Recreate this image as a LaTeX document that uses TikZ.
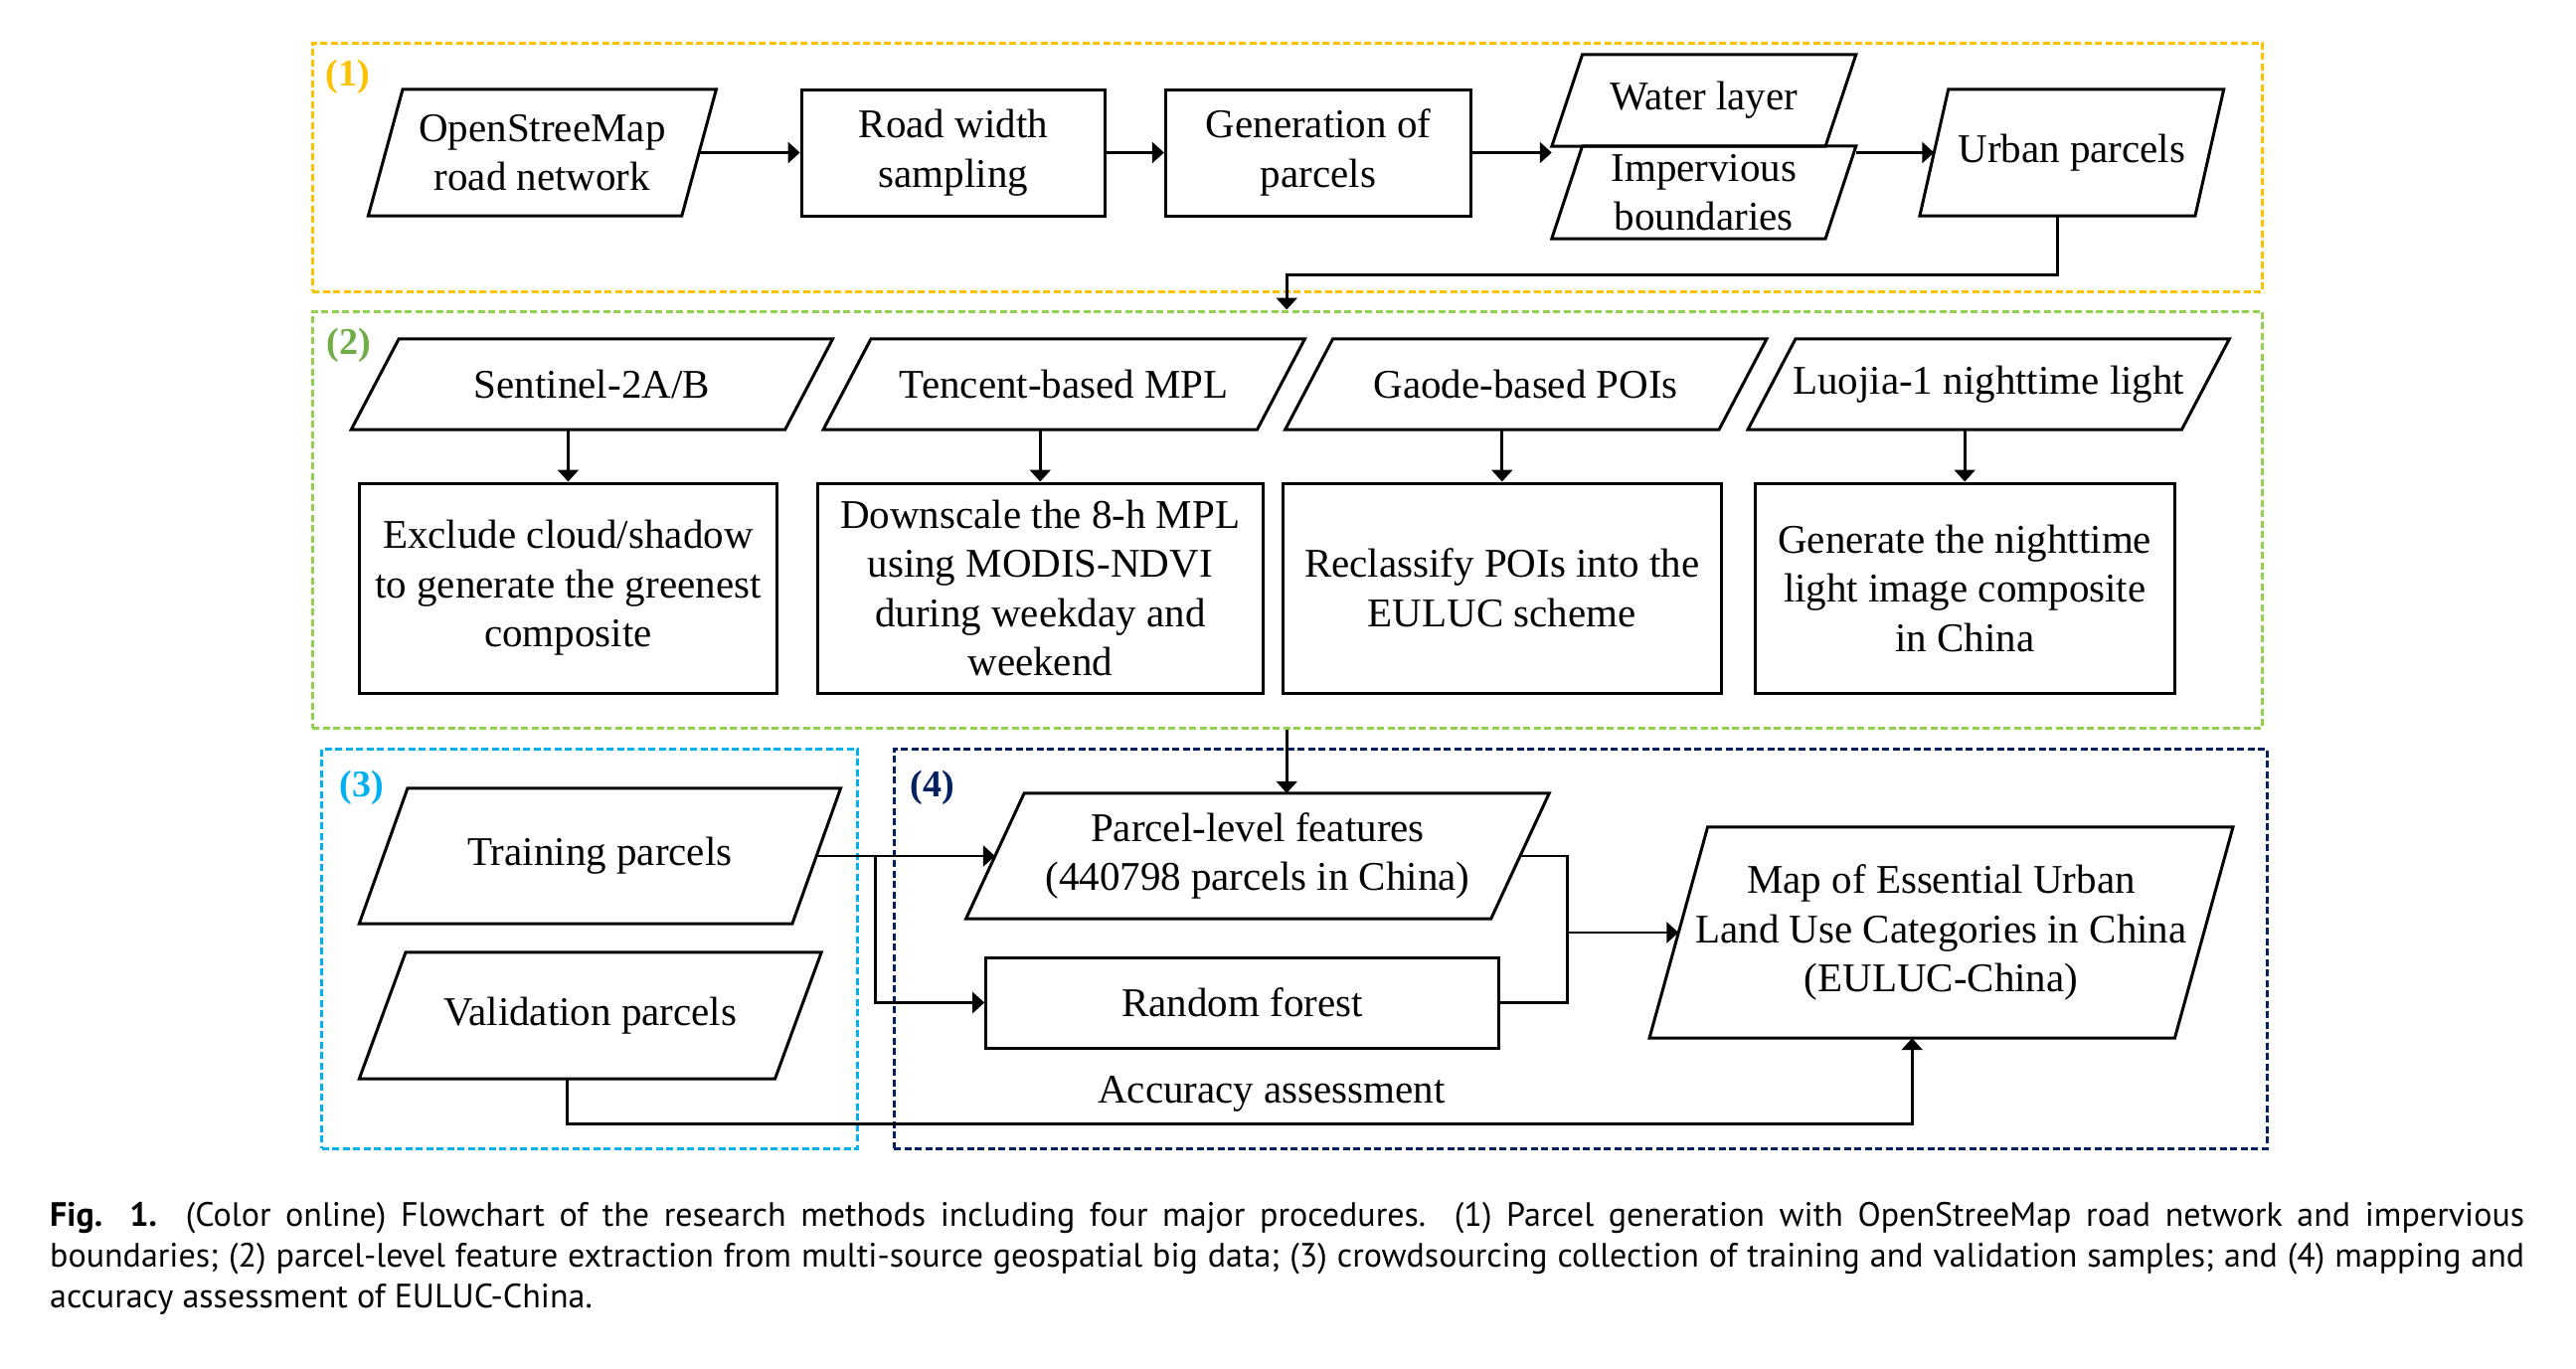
\documentclass[tikz,border=0pt]{standalone}
\usepackage{fontspec}
\setmainfont{Liberation Serif}
\newfontfamily\capfont{PT Sans}
\usetikzlibrary{arrows.meta}
\definecolor{cone}{HTML}{FFC000}
\definecolor{ctwo}{HTML}{92D050}
\definecolor{ctwot}{HTML}{70AD47}
\definecolor{cthree}{HTML}{00B0F0}
\definecolor{cfour}{HTML}{002060}
\newcommand\paraout[2]{\draw[line width=3pt, line join=miter] ([xshift=#2pt]#1.north west) -- ([xshift=#2pt]#1.north east) -- ([xshift=-#2pt]#1.south east) -- ([xshift=-#2pt]#1.south west) -- cycle;}
\tikzset{
  grp/.style={draw=#1, line width=3pt, dash pattern=on 7pt off 3.5pt, inner sep=0pt},
  glabel/.style={font=\fontsize{38}{40}\selectfont\bfseries, text=#1, inner sep=0pt},
  txt/.style={font=\fontsize{41}{49.5}\selectfont, align=center, inner sep=0pt},
  rbox/.style={txt, draw, line width=3pt},
  pbox/.style={txt},
  arr/.style={line width=2.7pt, -{Triangle[length=12pt,width=21pt]}},
  ln/.style={line width=2.7pt},
  capline/.style={font=\capfont\fontsize{34}{41}\selectfont, inner sep=0pt, anchor=base west}
}
\begin{document}
\begin{tikzpicture}[x=1pt,y=-1pt]
\useasboundingbox (0,0) rectangle (2591,1376);
\fill[white] (0,0) rectangle (2591,1376);

% groups
\node[grp=cone, minimum width=1961.5pt, minimum height=250pt] (g1) at (1294.75,168) {};
\node[grp=ctwo, minimum width=1961.5pt, minimum height=419pt] (g2) at (1294.75,522.5) {};
\node[grp=cthree, minimum width=539pt, minimum height=402pt] (g3) at (593.25,954) {};
\node[grp=cfour, minimum width=1381pt, minimum height=402pt] (g4) at (1589.9,954) {};
\node[glabel=cone] (l1) at (349.6,77) {(1)};
\node[glabel=ctwot] (l2) at (351,347) {(2)};
\node[glabel=cthree] (l3) at (363.5,792) {(3)};
\node[glabel=cfour] (l4) at (938,792) {(4)};

% section 1
\node[pbox, minimum width=315pt, minimum height=127pt] (osm) at (545.4,153.5) {OpenStreeMap\\road network};
\paraout{osm}{17.35}
\node[rbox, minimum width=305.6pt, minimum height=127pt] (road) at (958.9,153.5) {Road width\\sampling};
\node[rbox, minimum width=307.3pt, minimum height=127pt] (gen) at (1326,153.5) {Generation of\\parcels};
\node[pbox, minimum width=274.9pt, minimum height=92pt] (water) at (1713.8,101) {Water layer};
\node[pbox, minimum width=274.9pt, minimum height=93pt] (imp) at (1713.8,193.5) {Impervious\\boundaries};
\paraout{water}{15.4}
\paraout{imp}{15.4}
\node[pbox, minimum width=276.6pt, minimum height=127pt] (urban) at (2083.8,153.5) {Urban parcels};
\paraout{urban}{14.4}

\draw[arr] (osm.east) -- (road.west);
\draw[arr] (road.east) -- (gen.west);
\coordinate (wj) at ([xshift=-15.4pt]water.south west);
\draw[arr] (gen.east) -- (gen.east -| wj);
\coordinate (ij) at ([xshift=15.4pt]imp.north east);
\draw[arr] (gen.east -| ij) -- (urban.west);

% section 2
\node[pbox, minimum width=436pt, minimum height=91pt] (sent) at (595.4,386.5) {Sentinel-2A/B};
\node[pbox, minimum width=436pt, minimum height=91pt] (ten) at (1070.25,386.5) {Tencent-based MPL};
\node[pbox, minimum width=436pt, minimum height=91pt] (gaode) at (1534.8,386.5) {Gaode-based POIs};
\node[pbox, minimum width=436pt, minimum height=91pt] (luo) at (2000.2,386.5) {Luojia-1 nighttime light};
\paraout{sent}{24}
\paraout{ten}{24}
\paraout{gaode}{24}
\paraout{luo}{24}
\node[rbox, minimum width=420pt, minimum height=211pt] (excl) at (571.4,591.5) {Exclude cloud/shadow\\to generate the greenest\\composite};
\node[rbox, minimum width=448.5pt, minimum height=211pt] (down) at (1046.25,591.5) {Downscale the 8-h MPL\\using MODIS-NDVI\\during weekday and\\weekend};
\node[rbox, minimum width=441.6pt, minimum height=211pt] (recl) at (1510.8,591.5) {Reclassify POIs into the\\EULUC scheme};
\node[rbox, minimum width=421.8pt, minimum height=211pt] (genl) at (1976.2,591.5) {Generate the nighttime\\light image composite\\in China};
\draw[arr] ([xshift=-24pt]sent.south) -- (excl.north);
\draw[arr] ([xshift=-24pt]ten.south) -- (down.north);
\draw[arr] ([xshift=-24pt]gaode.south) -- (recl.north);
\draw[arr] ([xshift=-24pt]luo.south) -- (genl.north);

% section 3/4
\node[pbox, minimum width=435.2pt, minimum height=136pt] (train) at (603.4,861) {Training parcels};
\node[pbox, minimum width=417.8pt, minimum height=127pt] (valid) at (593.75,1021.5) {Validation parcels};
\paraout{train}{24.35}
\paraout{valid}{23.35}
\node[pbox, minimum width=527.7pt, minimum height=126pt] (parcel) at (1264.9,861) {Parcel-level features\\(440798 parcels in China)};
\paraout{parcel}{29.3}
\node[rbox, minimum width=515.7pt, minimum height=91pt] (rf) at (1249.55,1008.5) {Random forest};
\node[pbox, minimum width=528pt, minimum height=212pt] (map) at (1952.5,938) {Map of Essential Urban\\Land Use Categories in China\\(EULUC-China)};
\paraout{map}{29.3}
\node[txt] (acc) at (1279,1100) {Accuracy assessment};

% connectors
\coordinate (pt) at ([xshift=29.3pt]parcel.north);
\coordinate (ub) at ([xshift=-14.4pt]urban.south);
\draw[arr] (ub) -- ++(0,59) -| (pt |- g2.north);
\draw[arr] (g2.south -| pt) -- (pt);
\draw[arr] (train.east) -- (train.east -| parcel.west);
\coordinate (tb) at ([xshift=59.5pt]train.east);
\draw[arr] (tb) |- (rf.west);
\coordinate (jn) at ([xshift=47.2pt]parcel.east);
\draw[ln] (parcel.east) -| (jn |- rf.east) -- (rf.east);
\draw[arr] (jn |- map.west) -- (map.west);
\draw[arr] ([xshift=-23.35pt]valid.south) -- ++(0,45) -| ([xshift=-29.3pt]map.south);

% caption
\node[capline] (cap1) at (50,1233) {\hbox to 2489pt{\textbf{Fig. 1.} (Color online) Flowchart of the research methods including four major procedures. (1) Parcel generation with OpenStreeMap road network and impervious}};
\node[capline] (cap2) at (50,1274) {\hbox to 2489pt{boundaries; (2) parcel-level feature extraction from multi-source geospatial big data; (3) crowdsourcing collection of training and validation samples; and (4) mapping and}};
\node[capline] (cap3) at (50,1315) {accuracy assessment of EULUC-China.};
\end{tikzpicture}
\end{document}
